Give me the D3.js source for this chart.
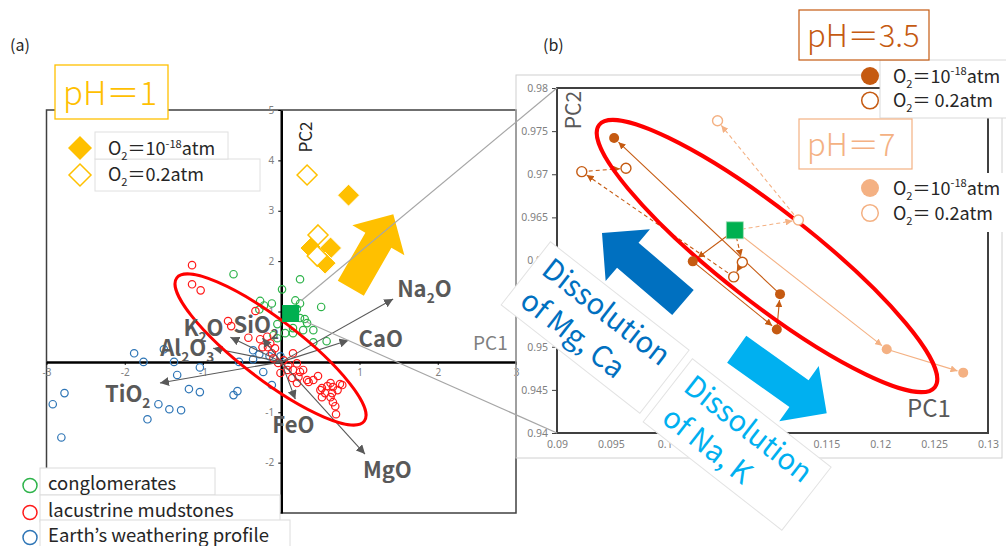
<!DOCTYPE html>
<html>
<head>
<meta charset="utf-8">
<script src="https://cdn.jsdelivr.net/npm/d3@7.9.0/dist/d3.min.js"></script>
<style>
  body { margin: 0; background: #fff; }
  svg { display: block; font-family: "Noto Sans CJK JP", "Noto Sans", sans-serif; }
</style>
</head>
<body>
<svg id="chart" width="1006" height="546"></svg>
<script>
// ---------- panel (a): PCA scores ----------
const conglomerates = [
  [-0.61, 1.74], [0.24, 1.64], [0.01, 1.44], [-0.27, 1.21], [-0.12, 1.16], [-0.22, 1.12],
  [0.18, 1.22], [0.24, 1.16], [0.51, 1.09], [-0.28, 1.04], [0.24, 0.87], [0.33, 0.77],
  [0.15, 0.67], [0.28, 0.63], [0.41, 0.63], [-0.05, 0.75], [0.05, 0.57], [-0.10, 0.53],
  [0.15, 0.57], [0.41, 0.39], [0.58, 0.41], [-0.05, 0.47], [0.30, 0.85], [0.20, 1.05]
];
const mudstones = [
  [-1.14, 1.92], [-1.14, 1.54], [-1.03, 1.42], [-0.68, 0.81], [-0.64, 0.71], [-0.33, 1.01],
  [-0.42, 0.48], [-0.27, 0.45], [-0.18, 0.50], [-0.17, 0.29], [-0.12, 0.17], [-0.08, 0.27],
  [0.03, 0.03], [0.09, -0.07], [0.15, 0.17], [0.20, -0.03], [0.15, -0.16], [0.22, -0.30],
  [0.28, -0.16], [0.33, -0.36], [0.20, -0.42], [0.35, -0.40], [0.47, -0.28], [0.50, -0.56],
  [0.59, -0.48], [0.66, -0.50], [0.56, -0.62], [0.65, -0.62], [0.75, -0.44], [0.66, -0.80],
  [0.69, -0.88], [0.70, -1.04], [0.52, -0.52], [0.63, -0.70], [0.52, -0.70], [0.08, -0.16],
  [-0.04, -0.02], [-0.10, 0.07], [-0.01, -0.22], [0.14, -0.32], [0.24, -0.20], [0.41, -0.36],
  [0.72, -0.56], [0.78, -0.46], [0.63, -0.42], [-0.14, 0.37], [-0.24, 0.29]
];
const weathering = [
  [-1.88, 0.17], [-1.76, 0.00], [-1.50, 0.25], [-1.37, 0.00], [-1.33, -0.26], [-1.04, -0.11],
  [-1.18, -0.54], [-1.04, -0.60], [-2.92, -0.84], [-2.77, -0.62], [-2.81, -1.50], [-1.71, -1.14],
  [-1.57, -0.84], [-1.43, -0.94], [-1.28, -0.96], [-0.61, -0.66], [-0.56, -0.58], [-0.54, 0.00],
  [-0.36, 0.23], [-0.36, 0.05], [-0.28, 0.15], [-0.23, -0.20], [-0.12, -0.46], [-0.15, 0.11],
  [-0.01, 0.11]
];
const ph1Anoxic = [[0.86, 3.31], [0.38, 2.26], [0.63, 2.26], [0.56, 1.96]];
const ph1Oxic = [[0.33, 3.71], [0.47, 2.52], [0.46, 2.10]];
const initialA = [0.12, 0.96];

// loadings
const loadNames = ['Na2O', 'CaO', 'MgO', 'FeO', 'K2O', 'SiO2', 'Al2O3', 'TiO2'];
const loadPC1 = [1.43, 0.86, 1.07, 0.18, -0.65, -0.24, -0.87, -1.55];
const loadPC2 = [1.25, 0.43, -1.83, -0.74, 0.49, 0.47, 0.27, -0.42];
const loadDx = [4, 10, -2, -23, -47, -29, -53, -55];
const loadDy = [-2, 7, 24, 34, -1, -5, 8, 19];

const ticksA_x = [-3, -2, -1, 1, 2, 3];
const ticksA_y = [5, 4, 3, 2, 1, -1, -2];

// ---------- panel (b): zoomed simulation ----------
const initialB = [0.1065, 0.9635];
const ph35Anoxic = [[0.1026, 0.9599], [0.1104, 0.9520], [0.1107, 0.9561], [0.0953, 0.9742]];
const ph35Oxic = [[0.1072, 0.9598], [0.1064, 0.9581], [0.0923, 0.9703], [0.0964, 0.9707]];
const ph7Anoxic = [[0.1206, 0.9497], [0.1277, 0.9470]];
const ph7Oxic = [[0.1124, 0.9647], [0.1049, 0.9762]];
const ticksB_x = [0.09, 0.095, 0.1, 0.105, 0.11, 0.115, 0.12, 0.125, 0.13];
const ticksB_y = [0.94, 0.945, 0.95, 0.955, 0.96, 0.965, 0.97, 0.975, 0.98];

const GOLD = '#FFC000', DARK = '#C55A11', LIGHT = '#F4B183', GREEN = '#00B050';

const svg = d3.select('#chart');

const xA = d3.scaleLinear().domain([-3, 3]).range([46.5, 516]);
const yA = d3.scaleLinear().domain([-3, 5]).range([513, 110]);
const xB = d3.scaleLinear().domain([0.09, 0.13]).range([557, 988]);
const yB = d3.scaleLinear().domain([0.94, 0.98]).range([433, 88]);

// text with sub / superscripts: parts = [[text, 'sub'|'sup'|undefined], ...]
function rich(parent, x, y, parts, size) {
  const t = parent.append('text').attr('x', x).attr('y', y).style('font-size', size + 'px');
  let shift = 0;
  parts.forEach(([s, kind]) => {
    const want = kind === 'sub' ? size * 0.28 : kind === 'sup' ? -size * 0.4 : 0;
    const ts = t.append('tspan').attr('dy', want - shift).text(s);
    if (kind) ts.style('font-size', (size * 0.62) + 'px');
    shift = want;
  });
  return t;
}
function chem(name) {
  return name.match(/[A-Za-z]+|\d+/g).map(s => /\d/.test(s) ? [s, 'sub'] : [s]);
}
const o2Low = [['O'], ['2', 'sub'], ['＝10'], ['-18', 'sup'], ['atm']];
const o2High = [['O'], ['2', 'sub'], ['＝0.2atm']];
const o2HighSp = [['O'], ['2', 'sub'], ['＝ 0.2atm']];

function arrowPoly(tail, tip, shaftW, headW, headL) {
  const dx = tip[0] - tail[0], dy = tip[1] - tail[1];
  const len = Math.hypot(dx, dy), ux = dx / len, uy = dy / len;
  const px = -uy, py = ux;
  const bx = tip[0] - ux * headL, by = tip[1] - uy * headL;
  const pt = (x, y, w) => [x + px * w, y + py * w];
  return [pt(tail[0], tail[1], shaftW / 2), pt(bx, by, shaftW / 2), pt(bx, by, headW / 2), tip,
          pt(bx, by, -headW / 2), pt(bx, by, -shaftW / 2), pt(tail[0], tail[1], -shaftW / 2)];
}
const diamond = h => `M0,${-h}L${h},0L0,${h}L${-h},0Z`;

// arrow markers
const defs = svg.append('defs');
[['mGrey', '#595959', 9], ['mDark', DARK, 7], ['mLight', LIGHT, 7]].forEach(([id, c, s]) => {
  defs.append('marker').attr('id', id).attr('viewBox', '0 0 10 10')
    .attr('refX', 10).attr('refY', 5).attr('markerWidth', s).attr('markerHeight', s)
    .attr('markerUnits', 'userSpaceOnUse').attr('orient', 'auto')
    .append('path').attr('d', 'M0,0L10,5L0,10Z').attr('fill', c);
});

// ================= panel (a) =================
const gA = svg.append('g');
gA.append('text').attr('x', 10).attr('y', 51).style('font-size', '16px').attr('fill', '#262626').text('(a)');

gA.append('rect').attr('x', xA(-3)).attr('y', yA(5)).attr('width', xA(3) - xA(-3)).attr('height', yA(-3) - yA(5))
  .attr('fill', 'none').attr('stroke', '#404040').attr('stroke-width', 1.5);

const axA_x = gA.append('g').attr('transform', `translate(0,${yA(0)})`)
  .call(d3.axisBottom(xA).tickValues(ticksA_x).tickFormat(d => String(d)).tickSize(3).tickPadding(4).tickSizeOuter(0));
const axA_y = gA.append('g').attr('transform', `translate(${xA(0)},0)`)
  .call(d3.axisLeft(yA).tickValues(ticksA_y).tickFormat(d => String(d)).tickSize(3).tickPadding(4).tickSizeOuter(0));
[axA_x, axA_y].forEach(ax => {
  ax.select('.domain').attr('stroke', '#000').attr('stroke-width', 2.5);
  ax.selectAll('.tick line').attr('stroke', '#000');
  ax.selectAll('.tick text').attr('fill', '#808080').style('font-size', '10px')
    .style('font-family', '"Noto Sans", sans-serif');
});

gA.append('text').attr('transform', 'translate(312,137) rotate(-90)').attr('text-anchor', 'middle')
  .style('font-size', '17px').attr('fill', '#262626').text('PC2');
gA.append('text').attr('x', 473).attr('y', 350).style('font-size', '19px').attr('fill', '#7f7f7f').text('PC1');

// scatter
[[weathering, '#2E75B6'], [conglomerates, '#2DB34A'], [mudstones, '#FF1A1A']].forEach(([arr, c]) => {
  gA.append('g').selectAll('circle').data(arr).join('circle')
    .attr('cx', d => xA(d[0])).attr('cy', d => yA(d[1])).attr('r', 3.7)
    .attr('fill', 'none').attr('stroke', c).attr('stroke-width', 1.2);
});

// loadings
const loads = loadNames.map((n, i) => ({ n, x: loadPC1[i], y: loadPC2[i], dx: loadDx[i], dy: loadDy[i] }));
gA.append('g').selectAll('line').data(loads).join('line')
  .attr('x1', xA(0)).attr('y1', yA(0)).attr('x2', d => xA(d.x)).attr('y2', d => yA(d.y))
  .attr('stroke', '#595959').attr('stroke-width', 1.1).attr('marker-end', 'url(#mGrey)');

// ellipse
const ellA = { cx: -0.137, cy: 0.246, a: 118, b: 30, rot: 37.4 };
gA.append('ellipse').attr('transform', `translate(${xA(ellA.cx)},${yA(ellA.cy)}) rotate(${ellA.rot})`)
  .attr('rx', ellA.a).attr('ry', ellA.b).attr('fill', 'none').attr('stroke', '#FF0000').attr('stroke-width', 3);

const labA = gA.append('g').attr('fill', '#595959').style('font-weight', 700);
loads.forEach(d => rich(labA, xA(d.x) + d.dx, yA(d.y) + d.dy, chem(d.n), 22));

// initial composition
gA.append('rect').attr('x', xA(initialA[0]) - 8.5).attr('y', yA(initialA[1]) - 8.5)
  .attr('width', 17).attr('height', 17).attr('fill', GREEN);

// pH=1 results
gA.append('g').selectAll('path').data(ph1Anoxic).join('path')
  .attr('d', diamond(11)).attr('transform', d => `translate(${xA(d[0])},${yA(d[1])})`)
  .attr('fill', GOLD).attr('stroke', '#fff').attr('stroke-width', 1);
gA.append('g').selectAll('path').data(ph1Oxic).join('path')
  .attr('d', diamond(10)).attr('transform', d => `translate(${xA(d[0])},${yA(d[1])})`)
  .attr('fill', '#fff').attr('stroke', GOLD).attr('stroke-width', 1.5);

const goldArrow = { tail: [0.889, 1.461], tip: [1.432, 2.93] };
gA.append('polygon')
  .attr('points', arrowPoly([xA(goldArrow.tail[0]), yA(goldArrow.tail[1])], [xA(goldArrow.tip[0]), yA(goldArrow.tip[1])], 30, 60, 30).join(' '))
  .attr('fill', GOLD);

// legend (a)
gA.append('rect').attr('x', 55).attr('y', 65).attr('width', 113).attr('height', 54)
  .attr('fill', '#fff').attr('stroke', GOLD).attr('stroke-width', 1.3);
gA.append('text').attr('x', 63).attr('y', 105).style('font-size', '33px').style('font-weight', 300)
  .attr('fill', GOLD).text('pH＝1');
gA.append('rect').attr('x', 95).attr('y', 159).attr('width', 165).attr('height', 32).attr('fill', '#fff').attr('stroke', '#e0e0e0');
gA.append('rect').attr('x', 95).attr('y', 132).attr('width', 133).attr('height', 27).attr('fill', '#fff').attr('stroke', '#e0e0e0');
gA.append('path').attr('d', diamond(12)).attr('transform', 'translate(80,148)').attr('fill', GOLD);
gA.append('path').attr('d', diamond(11)).attr('transform', 'translate(80,175)').attr('fill', '#fff').attr('stroke', GOLD).attr('stroke-width', 1.5);
const legA = gA.append('g').attr('fill', '#262626');
rich(legA, 108, 155, o2Low, 18);
rich(legA, 108, 181, o2High, 18);

const groupLegend = [['conglomerates', '#2DB34A', 468, 175], ['lacustrine mudstones', '#FF1A1A', 495, 240], ['Earth’s weathering profile', '#2E75B6', 520, 250]];
gA.append('rect').attr('x', 0).attr('y', 468).attr('width', 40).attr('height', 78).attr('fill', '#fff');
groupLegend.forEach(([name, c, top, w]) => {
  gA.append('rect').attr('x', 40).attr('y', top).attr('width', w).attr('height', top === 520 ? 30 : 27)
    .attr('fill', '#fff').attr('stroke', '#dcdcdc');
});
groupLegend.forEach(([name, c, top]) => {
  gA.append('circle').attr('cx', 30).attr('cy', top + 17.5).attr('r', 7).attr('fill', 'none')
    .attr('stroke', c).attr('stroke-width', 1.5);
  gA.append('text').attr('x', 48).attr('y', top + 22).style('font-size', '18.5px').attr('fill', '#262626').text(name);
});

// ================= panel (b) =================
const gB = svg.append('g');
gB.append('text').attr('x', 543).attr('y', 51).style('font-size', '16px').attr('fill', '#262626').text('(b)');
gB.append('rect').attr('x', 516).attr('y', 75).attr('width', 486).attr('height', 383)
  .attr('fill', 'none').attr('stroke', '#d0d0d0');
gB.append('rect').attr('x', xB(0.09)).attr('y', yB(0.98)).attr('width', xB(0.13) - xB(0.09)).attr('height', yB(0.94) - yB(0.98))
  .attr('fill', 'none').attr('stroke', '#404040').attr('stroke-width', 2);

const fmtB = d => String(+d.toFixed(3));
const axB_y = gB.append('g').attr('transform', `translate(${xB(0.09)},0)`)
  .call(d3.axisLeft(yB).tickValues(ticksB_y).tickFormat(fmtB).tickSize(5).tickPadding(4));
const axB_x = gB.append('g').attr('transform', `translate(0,${yB(0.94)})`)
  .call(d3.axisBottom(xB).tickValues(ticksB_x).tickFormat(fmtB).tickSize(0).tickPadding(8));
[axB_x, axB_y].forEach(ax => {
  ax.select('.domain').remove();
  ax.selectAll('.tick line').attr('stroke', '#404040');
  ax.selectAll('.tick text').attr('fill', '#7f7f7f').style('font-size', '10.5px')
    .style('font-family', '"Noto Sans", sans-serif');
});

gB.append('text').attr('transform', 'translate(581,110) rotate(-90)').attr('text-anchor', 'middle')
  .style('font-size', '21px').attr('fill', '#595959').text('PC2');
gB.append('text').attr('x', 907).attr('y', 417).style('font-size', '24px').attr('fill', '#595959').text('PC1');

// zoom lines from (a) to (b)
const zoomLines = [[[10.5, -12.8], [0.09, 0.98]], [[15.5, 8.2], [0.09, 0.94]]];
svg.append('g').selectAll('line').data(zoomLines).join('line')
  .attr('x1', d => xA(initialA[0]) + d[0][0]).attr('y1', d => yA(initialA[1]) + d[0][1])
  .attr('x2', d => xB(d[1][0])).attr('y2', d => yB(d[1][1]))
  .attr('stroke', '#a6a6a6').attr('stroke-width', 1.2);

// white call-out boxes behind the "Dissolution" texts
const callouts = [
  { lines: ['Dissolution', 'of Mg, Ca'], color: '#0070C0', x: 540, y: 273 },
  { lines: ['Dissolution', 'of Na, K'], color: '#00B0F0', x: 682, y: 390 }
];
const calloutG = callouts.map(c => svg.append('g').attr('transform', `translate(${c.x},${c.y}) rotate(38)`));
calloutG.forEach(g => g.append('rect').attr('x', -11).attr('y', -31).attr('width', 176).attr('height', 80)
  .attr('fill', '#fff').attr('stroke', '#e3e3e3').attr('stroke-width', 1));

// big direction arrows
const blueArrows = [
  { tail: [0.10169, 0.95513], tip: [0.094176, 0.963188], color: '#0070C0' },
  { tail: [0.106677, 0.949716], tip: [0.11503, 0.942284], color: '#00B0F0' }
];
gB.append('g').selectAll('polygon').data(blueArrows).join('polygon')
  .attr('points', d => arrowPoly([xB(d.tail[0]), yB(d.tail[1])], [xB(d.tip[0]), yB(d.tip[1])], 33, 68, 34).join(' '))
  .attr('fill', d => d.color);

// paths from the initial composition
function trail(pts, color, dashed, marker, r) {
  const full = [initialB, ...pts];
  for (let i = 1; i < full.length; i++) {
    const x1 = xB(full[i - 1][0]), y1 = yB(full[i - 1][1]);
    const x2 = xB(full[i][0]), y2 = yB(full[i][1]);
    const len = Math.hypot(x2 - x1, y2 - y1);
    const k = (len - r - 1) / len;
    gB.append('line').attr('x1', x1).attr('y1', y1).attr('x2', x1 + (x2 - x1) * k).attr('y2', y1 + (y2 - y1) * k)
      .attr('stroke', color).attr('stroke-width', 1.1).attr('stroke-dasharray', dashed ? '4,3' : null)
      .attr('marker-end', `url(#${marker})`);
  }
}
trail(ph7Anoxic, LIGHT, false, 'mLight', 5);
trail(ph7Oxic, LIGHT, true, 'mLight', 5);
trail(ph35Anoxic, DARK, false, 'mDark', 5);
trail(ph35Oxic, DARK, true, 'mDark', 5);

const ellB = { cx: 0.10949, cy: 0.96052, a: 213, b: 46, rot: 38 };
gB.append('ellipse').attr('transform', `translate(${xB(ellB.cx)},${yB(ellB.cy)}) rotate(${ellB.rot})`)
  .attr('rx', ellB.a).attr('ry', ellB.b).attr('fill', 'none').attr('stroke', '#FF0000').attr('stroke-width', 4);

[[ph7Anoxic, LIGHT, true], [ph7Oxic, LIGHT, false], [ph35Anoxic, DARK, true], [ph35Oxic, DARK, false]].forEach(([arr, c, filled]) => {
  gB.append('g').selectAll('circle').data(arr).join('circle')
    .attr('cx', d => xB(d[0])).attr('cy', d => yB(d[1])).attr('r', 5)
    .attr('fill', filled ? c : '#fff').attr('stroke', c).attr('stroke-width', filled ? 0 : 1.4);
});
gB.append('rect').attr('x', xB(initialB[0]) - 8.5).attr('y', yB(initialB[1]) - 8.5)
  .attr('width', 17).attr('height', 17).attr('fill', GREEN).attr('stroke', '#9fdcb5').attr('stroke-width', 0.8);

// dissolution texts
callouts.forEach((c, i) => {
  const t = calloutG[i].append('text').attr('fill', c.color).style('font-size', '29px');
  t.append('tspan').attr('x', 0).attr('y', 0).text(c.lines[0]);
  t.append('tspan').attr('x', 2).attr('y', 38).text(c.lines[1]);
});

// legend (b)
const legB = svg.append('g');
legB.append('rect').attr('x', 880).attr('y', 60).attr('width', 130).attr('height', 58).attr('fill', '#fff').attr('stroke', '#d9d9d9');
legB.append('rect').attr('x', 880).attr('y', 173).attr('width', 130).attr('height', 59).attr('fill', '#fff');
legB.append('rect').attr('x', 799).attr('y', 10).attr('width', 130).attr('height', 50)
  .attr('fill', '#fff').attr('stroke', DARK).attr('stroke-width', 1.2);
legB.append('text').attr('x', 807).attr('y', 47).style('font-size', '31px').style('font-weight', 300)
  .attr('fill', DARK).text('pH＝3.5');
legB.append('rect').attr('x', 799).attr('y', 119).attr('width', 113).attr('height', 50)
  .attr('fill', '#fff').attr('stroke', LIGHT).attr('stroke-width', 1.2);
legB.append('text').attr('x', 807).attr('y', 156).style('font-size', '31px').style('font-weight', 300)
  .attr('fill', LIGHT).text('pH＝7');
const legRows = [[DARK, true, 76, o2Low], [DARK, false, 100.5, o2HighSp], [LIGHT, true, 188, o2Low], [LIGHT, false, 213, o2HighSp]];
legRows.forEach(([c, filled, cy, parts]) => {
  legB.append('circle').attr('cx', 870).attr('cy', cy).attr('r', filled ? 9 : 8.3)
    .attr('fill', filled ? c : '#fff').attr('stroke', c).attr('stroke-width', filled ? 0 : 1.5);
  rich(legB.append('g').attr('fill', '#262626'), 893, cy + 6.5, parts, 18);
});
</script>
</body>
</html>
